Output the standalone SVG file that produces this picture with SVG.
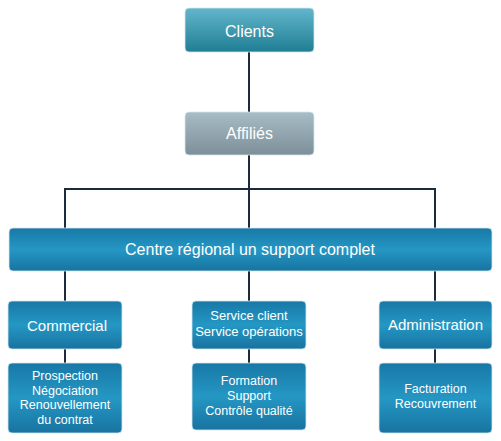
<svg xmlns="http://www.w3.org/2000/svg" width="501" height="441" viewBox="0 0 501 441">
<defs>
<linearGradient id="gTeal" x1="0" y1="0" x2="0" y2="1"><stop offset="0" stop-color="#63b6cb"/><stop offset="1" stop-color="#1f7e94"/></linearGradient>
<linearGradient id="gGrey" x1="0" y1="0" x2="0" y2="1"><stop offset="0" stop-color="#a7bcc5"/><stop offset="1" stop-color="#7d9099"/></linearGradient>
<linearGradient id="gBlue" x1="0" y1="0" x2="0" y2="1"><stop offset="0" stop-color="#1878a6"/><stop offset="0.5" stop-color="#2597c4"/><stop offset="1" stop-color="#1873a0"/></linearGradient>
</defs>
<style>
.box{stroke:#d6e6ee;stroke-width:0.8}
.t{font-family:"Liberation Sans",Arial,sans-serif;fill:#ffffff;text-anchor:middle}
.big{font-size:16px}
.mid{font-size:15px}
.sm{font-size:12.5px}
.ln{stroke:#1b2a3d;stroke-width:2;fill:none}
</style>
<g id="connectors">
<path class="ln" d="M249 52V112M249 155V228M65 228V189H435V228M65 271V301M249 271V301M435 271V301M65 349V363M249 349V363M435 349V363"/>
</g>
<g id="clients"><rect class="box" x="185" y="8" width="129" height="44" rx="4" fill="url(#gTeal)"/><text class="t big" x="249.5" y="37">Clients</text></g>
<g id="affilies"><rect class="box" x="185" y="112" width="129" height="43" rx="4" fill="url(#gGrey)"/><text class="t big" x="249.5" y="139">Affiliés</text></g>
<g id="centre"><rect class="box" x="9" y="228" width="483" height="43" rx="4" fill="url(#gBlue)"/><text class="t big" x="250" y="254.5">Centre régional un support complet</text></g>
<g id="commercial"><rect class="box" x="8" y="301" width="114" height="48" rx="4" fill="url(#gBlue)"/><text class="t mid" x="67" y="331">Commercial</text></g>
<g id="service"><rect class="box" x="192" y="301" width="114" height="48" rx="4" fill="url(#gBlue)"/><text class="t sm" x="249" y="320" style="font-size:13px">Service client</text><text class="t sm" x="249" y="336" style="font-size:13px">Service opérations</text></g>
<g id="administration"><rect class="box" x="379" y="301" width="113" height="48" rx="4" fill="url(#gBlue)"/><text class="t mid" x="435.5" y="330">Administration</text></g>
<g id="commercial-tasks"><rect class="box" x="8" y="363" width="114" height="70" rx="4" fill="url(#gBlue)"/><text class="t sm" x="65" y="380">Prospection</text><text class="t sm" x="65" y="394.5">Négociation</text><text class="t sm" x="65" y="409">Renouvellement</text><text class="t sm" x="65" y="423.5">du contrat</text></g>
<g id="service-tasks"><rect class="box" x="192" y="363" width="114" height="67" rx="4" fill="url(#gBlue)"/><text class="t sm" x="249" y="385">Formation</text><text class="t sm" x="249" y="400">Support</text><text class="t sm" x="249" y="415">Contrôle qualité</text></g>
<g id="admin-tasks"><rect class="box" x="379" y="363" width="113" height="70" rx="4" fill="url(#gBlue)"/><text class="t sm" x="435.5" y="393">Facturation</text><text class="t sm" x="435.5" y="408">Recouvrement</text></g>
</svg>
